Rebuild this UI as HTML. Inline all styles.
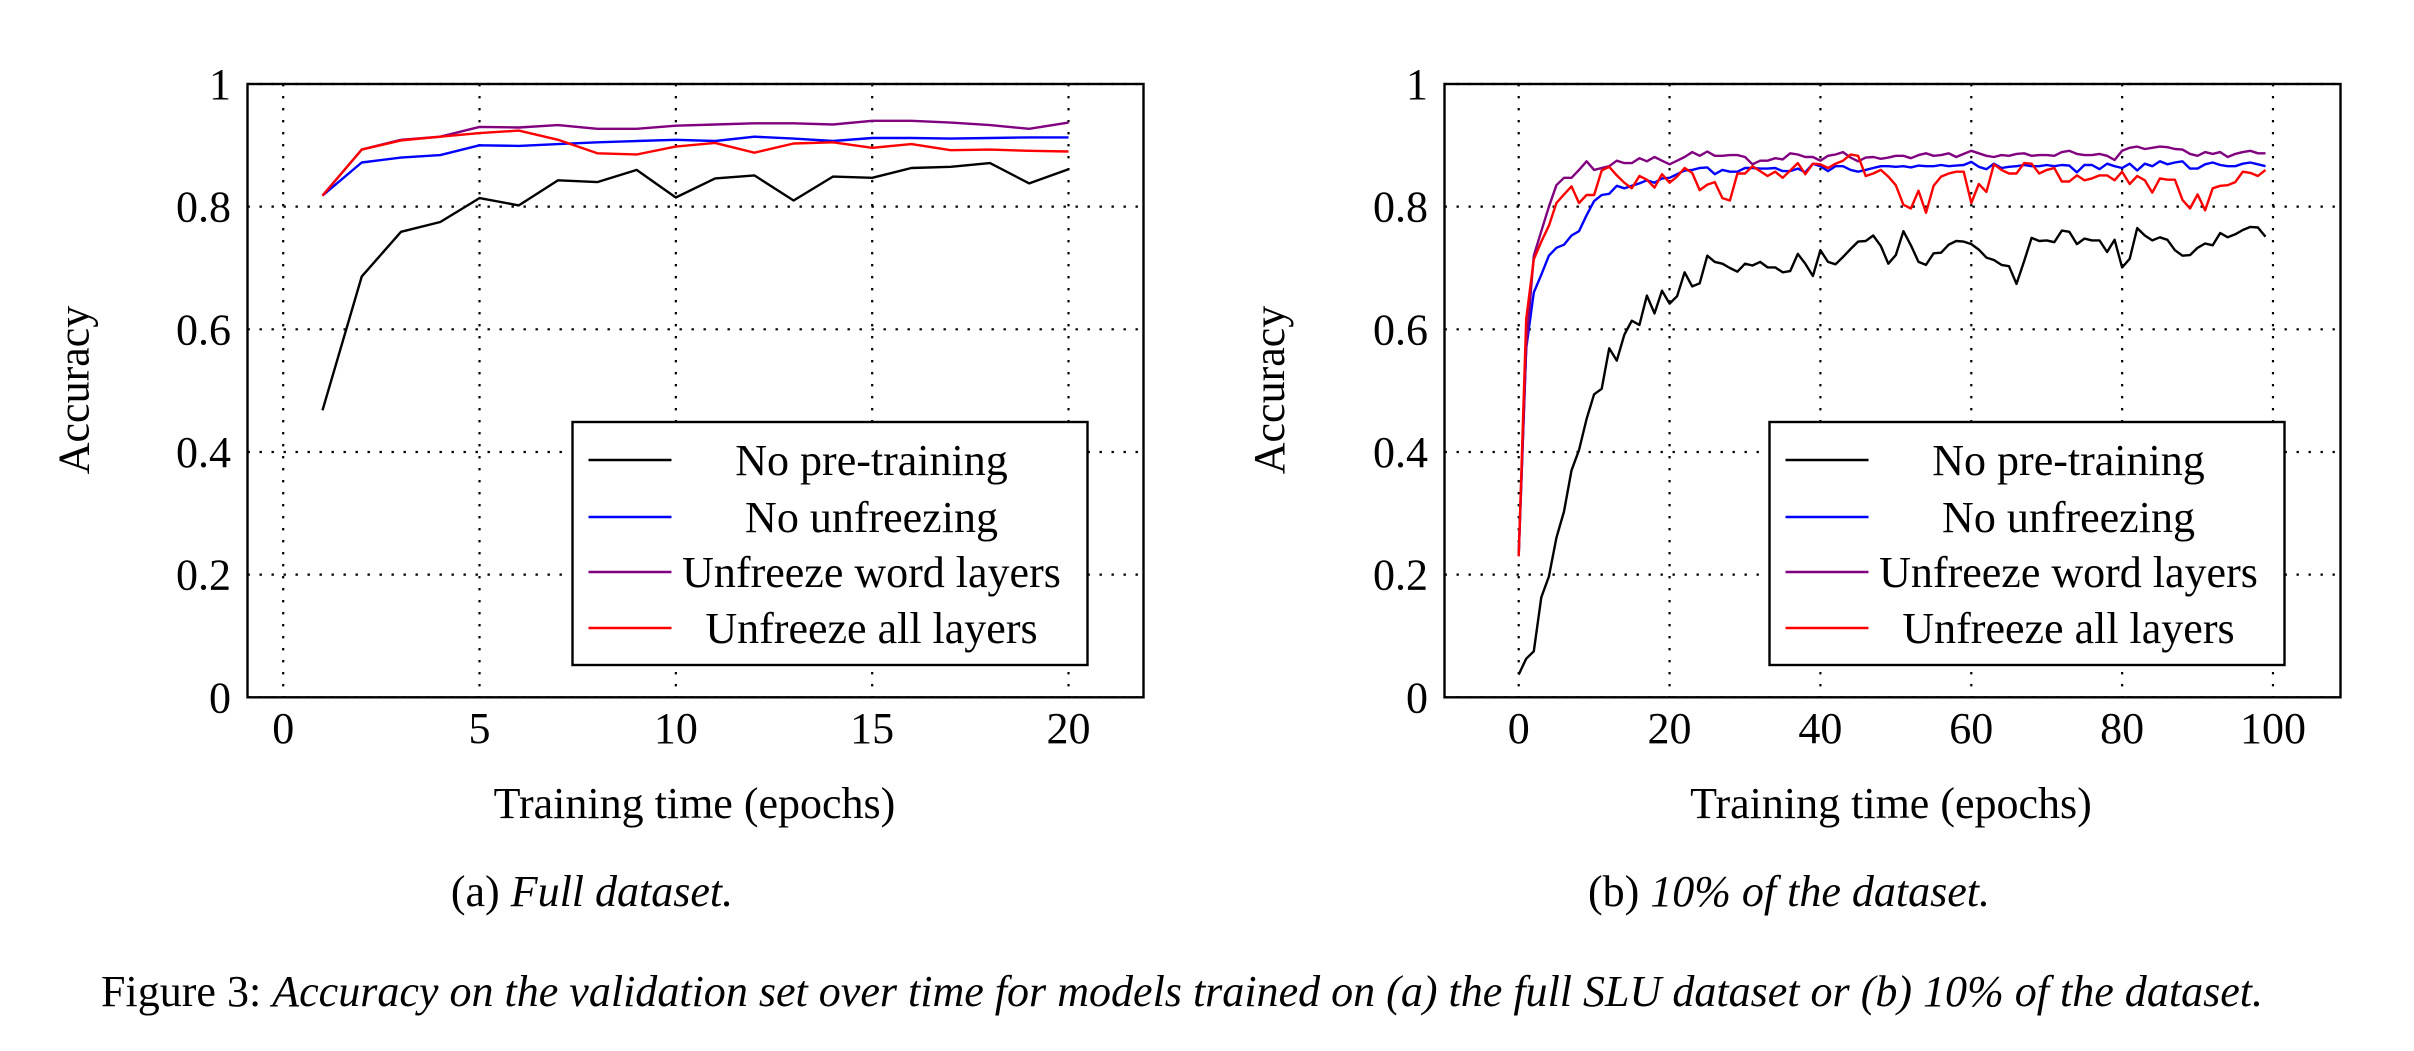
<!DOCTYPE html>
<html><head><meta charset="utf-8"><style>
html,body{margin:0;padding:0;background:#fff;}
svg text{font-family:"Liberation Serif",serif;fill:#000;}
</style></head><body>
<svg id="fig" width="2414" height="1046" viewBox="0 0 2414 1046" xmlns="http://www.w3.org/2000/svg">
<text x="592" y="906" font-size="44" text-anchor="middle">(a) <tspan font-style="italic">Full dataset.</tspan></text>
<text x="1789" y="906" font-size="44" text-anchor="middle">(b) <tspan font-style="italic">10% of the dataset.</tspan></text>
<text x="101" y="1006" font-size="44" textLength="2162" lengthAdjust="spacingAndGlyphs">Figure 3: <tspan font-style="italic">Accuracy on the validation set over time for models trained on (a) the full SLU dataset or (b) 10% of the dataset.</tspan></text>
</svg>
<script>
const seriesNames = ["No pre-training","No unfreezing","Unfreeze word layers","Unfreeze all layers"];
const seriesColors = ["#000000","#0000ff","#800080","#ff0000"];
const yTicks = [0,0.2,0.4,0.6,0.8,1];
const yTickLabels = ["0","0.2","0.4","0.6","0.8","1"];
const xTicksA = [0,5,10,15,20];
const xTicksB = [0,20,40,60,80,100];
const epochsA = [1,2,3,4,5,6,7,8,9,10,11,12,13,14,15,16,17,18,19,20];
const blackA = [0.468,0.686,0.759,0.775,0.814,0.802,0.843,0.84,0.86,0.815,0.846,0.851,0.81,0.849,0.847,0.863,0.865,0.871,0.838,0.861];
const blueA = [0.818,0.872,0.88,0.884,0.9,0.899,0.902,0.905,0.907,0.909,0.907,0.914,0.911,0.907,0.912,0.912,0.911,0.912,0.913,0.913];
const purpleA = [0.818,0.893,0.909,0.914,0.93,0.929,0.933,0.927,0.927,0.932,0.934,0.936,0.936,0.934,0.94,0.94,0.937,0.933,0.927,0.937];
const redA = [0.818,0.893,0.908,0.914,0.92,0.924,0.909,0.887,0.885,0.898,0.904,0.888,0.903,0.905,0.896,0.902,0.892,0.893,0.891,0.89];
const epochsB = Array.from({length:100},(_, i)=>i);
const blackB = [0.037,0.063,0.075,0.163,0.197,0.26,0.303,0.37,0.403,0.454,0.494,0.503,0.569,0.549,0.591,0.614,0.607,0.655,0.626,0.663,
0.642,0.654,0.693,0.67,0.675,0.72,0.71,0.707,0.7,0.694,0.707,0.704,0.71,0.701,0.701,0.693,0.695,0.723,0.707,0.687,
0.729,0.71,0.706,0.718,0.731,0.743,0.744,0.753,0.736,0.707,0.721,0.76,0.737,0.71,0.705,0.724,0.725,0.738,0.744,0.743,
0.739,0.73,0.717,0.713,0.705,0.703,0.674,0.711,0.749,0.744,0.745,0.742,0.761,0.759,0.739,0.748,0.745,0.745,0.726,0.746,
0.701,0.715,0.765,0.753,0.745,0.75,0.746,0.729,0.72,0.721,0.733,0.74,0.737,0.757,0.75,0.755,0.762,0.767,0.766,0.751];
const blueB = [0.234,0.569,0.66,0.689,0.72,0.733,0.738,0.753,0.76,0.786,0.809,0.819,0.821,0.834,0.83,0.834,0.838,0.843,0.839,0.846,
0.847,0.853,0.859,0.86,0.863,0.864,0.853,0.86,0.857,0.857,0.863,0.863,0.862,0.862,0.863,0.858,0.858,0.862,0.856,0.87,
0.866,0.858,0.866,0.866,0.86,0.857,0.86,0.863,0.866,0.866,0.865,0.866,0.864,0.867,0.866,0.866,0.868,0.866,0.867,0.868,
0.873,0.865,0.861,0.87,0.863,0.865,0.866,0.868,0.866,0.866,0.868,0.866,0.868,0.867,0.856,0.868,0.868,0.861,0.87,0.866,
0.863,0.87,0.859,0.87,0.866,0.874,0.869,0.872,0.874,0.862,0.862,0.869,0.872,0.868,0.866,0.866,0.87,0.872,0.869,0.866];
const purpleB = [0.23,0.57,0.72,0.76,0.8,0.835,0.847,0.847,0.86,0.874,0.86,0.863,0.866,0.875,0.871,0.871,0.879,0.874,0.881,0.875,
0.869,0.875,0.881,0.889,0.883,0.89,0.883,0.883,0.884,0.884,0.881,0.869,0.875,0.875,0.879,0.877,0.887,0.885,0.881,0.881,
0.875,0.883,0.885,0.889,0.88,0.874,0.88,0.881,0.878,0.88,0.883,0.883,0.879,0.884,0.887,0.883,0.884,0.887,0.881,0.886,
0.891,0.887,0.883,0.881,0.884,0.883,0.886,0.887,0.883,0.884,0.884,0.883,0.889,0.891,0.886,0.884,0.884,0.886,0.883,0.876,
0.891,0.896,0.898,0.894,0.896,0.898,0.897,0.894,0.893,0.886,0.883,0.889,0.886,0.889,0.881,0.886,0.889,0.891,0.887,0.887];
const redB = [0.23,0.617,0.714,0.743,0.769,0.806,0.82,0.833,0.806,0.819,0.819,0.859,0.865,0.851,0.839,0.83,0.85,0.844,0.831,0.853,
0.839,0.849,0.863,0.855,0.827,0.836,0.84,0.814,0.81,0.854,0.854,0.866,0.858,0.85,0.857,0.847,0.859,0.871,0.853,0.87,
0.869,0.863,0.87,0.875,0.885,0.883,0.85,0.854,0.86,0.849,0.835,0.803,0.797,0.826,0.79,0.834,0.849,0.854,0.857,0.857,
0.806,0.837,0.824,0.869,0.86,0.854,0.854,0.871,0.87,0.854,0.86,0.863,0.841,0.841,0.851,0.843,0.846,0.851,0.851,0.843,
0.857,0.837,0.85,0.843,0.823,0.846,0.844,0.844,0.811,0.797,0.82,0.794,0.83,0.834,0.835,0.84,0.857,0.855,0.85,0.86];

const NS = "http://www.w3.org/2000/svg";
const svg = document.getElementById('fig');
function mk(tag, attrs, parent){const e=document.createElementNS(NS,tag);for(const k in attrs)e.setAttribute(k,attrs[k]);(parent||svg).appendChild(e);return e;}

function drawPanel(p){
  const g = mk('g',{});
  
  
  const X = v => p.x0px + (v - p.xmin) / (p.xmax - p.xmin) * (p.x1px - p.x0px);
  const Y = v => 697.3 - v * 613.3;
  // grid
  yTicks.forEach((t,i)=>{
    const l = mk('line',{x1:p.left,x2:p.right,y1:Y(t),y2:Y(t),stroke:'#000','stroke-width':2.2,'stroke-dasharray':'2.4 9.6'},g);
    
    
    const tx = mk('text',{x:p.labelRight,y:Y(t)+15,'font-size':44,'text-anchor':'end'},g);
    tx.textContent = yTickLabels[i];
    
    
  });
  p.xTicks.forEach(t=>{
    const l = mk('line',{x1:X(t),x2:X(t),y1:84,y2:697.3,stroke:'#000','stroke-width':2.2,'stroke-dasharray':'2.4 9.6'},g);
    
    
    const tx = mk('text',{x:X(t),y:743,'font-size':44,'text-anchor':'middle'},g);
    tx.textContent = String(t);
    
    
  });
  // series
  p.series.forEach((s,k)=>{
    const d = s.map((v,i)=>(i?'L':'M')+X(p.xs[i]).toFixed(1)+','+Y(v).toFixed(1)).join(' ');
    const path = mk('path',{d:d,fill:'none',stroke:seriesColors[k],'stroke-width':2.4,'stroke-linejoin':'round'},g);
    
    
  });
  const box = mk('rect',{x:p.left,y:84,width:p.right-p.left,height:613.3,fill:'none',stroke:'#000','stroke-width':2.4},g);
  
  
  // legend
  const lg = mk('g',{},g);
  
  
  mk('rect',{x:p.legX,y:422,width:515,height:243,fill:'#fff',stroke:'#000','stroke-width':2.4},lg);
  const ly=[460,517,572,628];
  seriesNames.forEach((n,k)=>{
    const ent = mk('g',{},lg);
    
    
    mk('line',{x1:p.legX+16,x2:p.legX+99,y1:ly[k],y2:ly[k],stroke:seriesColors[k],'stroke-width':2.4},ent);
    const t = mk('text',{x:p.legX+299,y:ly[k]+15,'font-size':44,'text-anchor':'middle'},ent);
    t.textContent = n;
  });
  const xt = mk('text',{x:p.xTitleX,y:818,'font-size':44,'text-anchor':'middle'},g);
  xt.textContent='Training time (epochs)';
  
  
  const yt = mk('text',{x:0,y:0,'font-size':44,'text-anchor':'middle',transform:'translate('+(p.yTitleX+15)+',390) rotate(-90)'},g);
  yt.textContent='Accuracy';
  
  
}

drawPanel({name:'panel-a-full-dataset',left:247.5,right:1143.5,x0px:283.2,x1px:1068.5,xmin:0,xmax:20,
  xTicks:xTicksA,xs:epochsA,series:[blackA,blueA,purpleA,redA],labelRight:231,legX:572.5,xTitleX:694.5,yTitleX:73.5});
drawPanel({name:'panel-b-10-percent',left:1444.5,right:2340.5,x0px:1518.7,x1px:2273,xmin:0,xmax:100,
  xTicks:xTicksB,xs:epochsB,series:[blackB,blueB,purpleB,redB],labelRight:1428,legX:1769.5,xTitleX:1891,yTitleX:1269});
</script>
</body></html>
